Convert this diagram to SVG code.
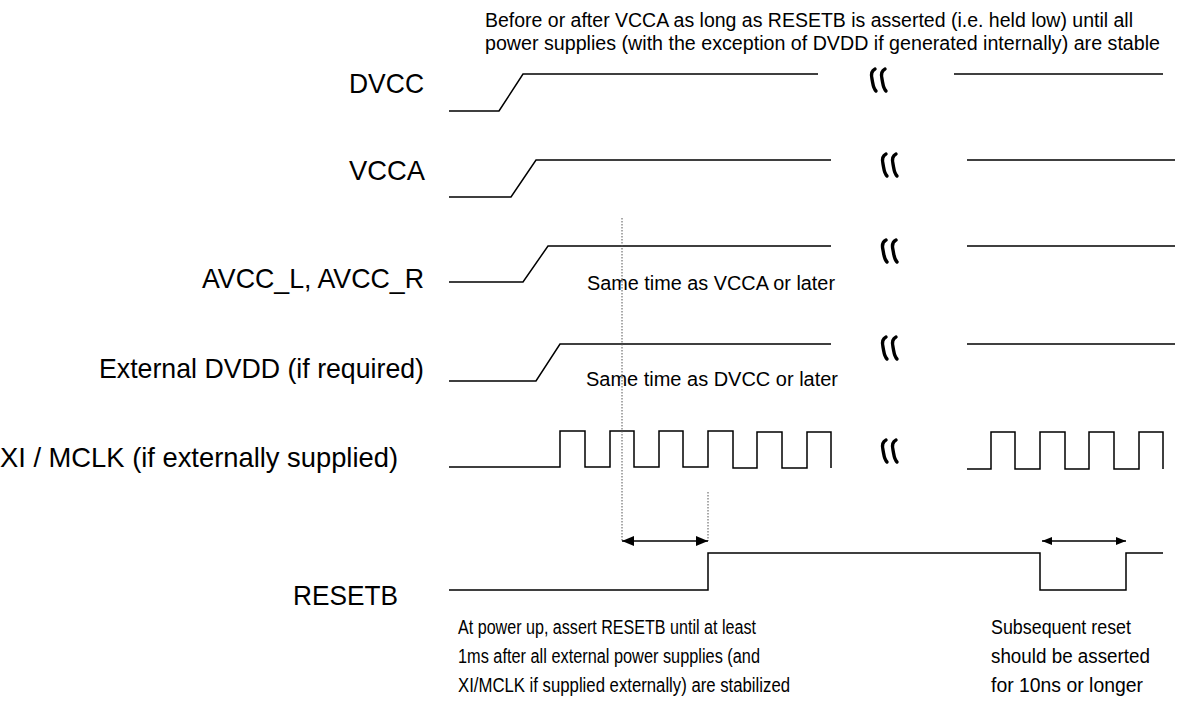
<svg xmlns="http://www.w3.org/2000/svg" width="1177" height="704" viewBox="0 0 1177 704">
<style>
.sig{fill:none;stroke:#000;stroke-width:1.5;stroke-linejoin:miter}
.lbl{font-family:"Liberation Sans Narrow","Liberation Sans",Arial,sans-serif;font-size:28px;fill:#000}
.note{font-family:"Liberation Sans Narrow","Liberation Sans",Arial,sans-serif;font-size:20px;fill:#000}
.brk{fill:none;stroke:#000;stroke-width:3.4;stroke-linecap:round}
.dot{fill:none;stroke:#555;stroke-width:1;stroke-dasharray:1.5 1.5}
.arr{fill:none;stroke:#000;stroke-width:1.5}
</style>
<defs>
<marker id="ah" viewBox="0 0 12 10" refX="12" refY="5" markerWidth="12" markerHeight="10" markerUnits="userSpaceOnUse" orient="auto-start-reverse">
<path d="M0,0 L12,5 L0,10 Z" fill="#000"/>
</marker>
<marker id="ah2" viewBox="0 0 10 8" refX="10" refY="4" markerWidth="10" markerHeight="8" markerUnits="userSpaceOnUse" orient="auto-start-reverse">
<path d="M0,0 L10,4 L0,8 Z" fill="#000"/>
</marker>
<g id="brkmark">
<path class="brk" d="M0,-11 C-4,-9 -4,-5 -3,-1 C-2,4 -2,8 1,11"/>
<path class="brk" d="M10,-11 C6,-9 6,-5 7,-1 C8,4 8,8 11,11"/>
</g>
</defs>

<g id="header-note">
<text class="note" x="485" y="27" textLength="648" lengthAdjust="spacingAndGlyphs">Before or after VCCA as long as RESETB is asserted (i.e. held low) until all</text>
<text class="note" x="485" y="50" textLength="675" lengthAdjust="spacingAndGlyphs">power supplies (with the exception of DVDD if generated internally) are stable</text>
</g>

<g id="DVCC">
<text class="lbl" x="349" y="93" textLength="75" lengthAdjust="spacingAndGlyphs">DVCC</text>
<path class="sig" d="M449,111 H499 L523,74 H818"/>
<path class="sig" d="M954,74 H1163"/>
<use href="#brkmark" x="875" y="80"/>
</g>

<g id="VCCA">
<text class="lbl" x="349" y="180" textLength="76" lengthAdjust="spacingAndGlyphs">VCCA</text>
<path class="sig" d="M449,197 H511 L536,160 H831"/>
<path class="sig" d="M967,160 H1175"/>
<use href="#brkmark" x="886" y="165"/>
</g>

<g id="AVCC">
<text class="lbl" x="202" y="288" textLength="222" lengthAdjust="spacingAndGlyphs">AVCC_L, AVCC_R</text>
<path class="sig" d="M449,282 H523 L548,246 H831"/>
<path class="sig" d="M967,246 H1175"/>
<use href="#brkmark" x="886" y="251"/>
<text class="note" x="587" y="290" textLength="248" lengthAdjust="spacingAndGlyphs">Same time as VCCA or later</text>
</g>

<g id="ExtDVDD">
<text class="lbl" x="99" y="378" textLength="325" lengthAdjust="spacingAndGlyphs">External DVDD (if required)</text>
<path class="sig" d="M449,381 H536 L560,344 H831"/>
<path class="sig" d="M967,344 H1175"/>
<use href="#brkmark" x="886" y="348"/>
<text class="note" x="586" y="386" textLength="252" lengthAdjust="spacingAndGlyphs">Same time as DVCC or later</text>
</g>

<g id="XI-MCLK">
<text class="lbl" x="0" y="467" textLength="398" lengthAdjust="spacingAndGlyphs">XI / MCLK (if externally supplied)</text>
<path class="sig" d="M449,467 H560 V431 H585 V467 H610 V431 H634 V467 H659 V431 H683 V467 H708 V431 H733 V468 H757 V432 H782 V468 H807 V432 H831 V468"/>
<path class="sig" d="M967,469 H991 V432 H1015 V469 H1040 V432 H1065 V469 H1089 V432 H1114 V469 H1139 V432 H1163 V469"/>
<use href="#brkmark" x="886" y="451"/>
</g>

<g id="RESETB">
<text class="lbl" x="293" y="605" textLength="105" lengthAdjust="spacingAndGlyphs">RESETB</text>
<path class="sig" d="M449,590 H708 V553 H1040 V590 H1126 V553 H1163"/>
<text class="note" x="458" y="634" textLength="298" lengthAdjust="spacingAndGlyphs">At power up, assert RESETB until at least</text>
<text class="note" x="458" y="663" textLength="302" lengthAdjust="spacingAndGlyphs">1ms after all external power supplies (and</text>
<text class="note" x="458" y="692" textLength="332" lengthAdjust="spacingAndGlyphs">XI/MCLK if supplied externally) are stabilized</text>
<text class="note" x="991" y="634" textLength="140" lengthAdjust="spacingAndGlyphs">Subsequent reset</text>
<text class="note" x="991" y="663" textLength="159" lengthAdjust="spacingAndGlyphs">should be asserted</text>
<text class="note" x="991" y="692" textLength="152" lengthAdjust="spacingAndGlyphs">for 10ns or longer</text>
</g>

<g id="connectors">
<path class="dot" d="M622,218 V541"/>
<path class="dot" d="M708,492 V541"/>
<path class="arr" d="M622,541 H708" marker-start="url(#ah)" marker-end="url(#ah)"/>
<path class="arr" d="M1042,541 H1126" marker-start="url(#ah2)" marker-end="url(#ah2)"/>
</g>
</svg>
